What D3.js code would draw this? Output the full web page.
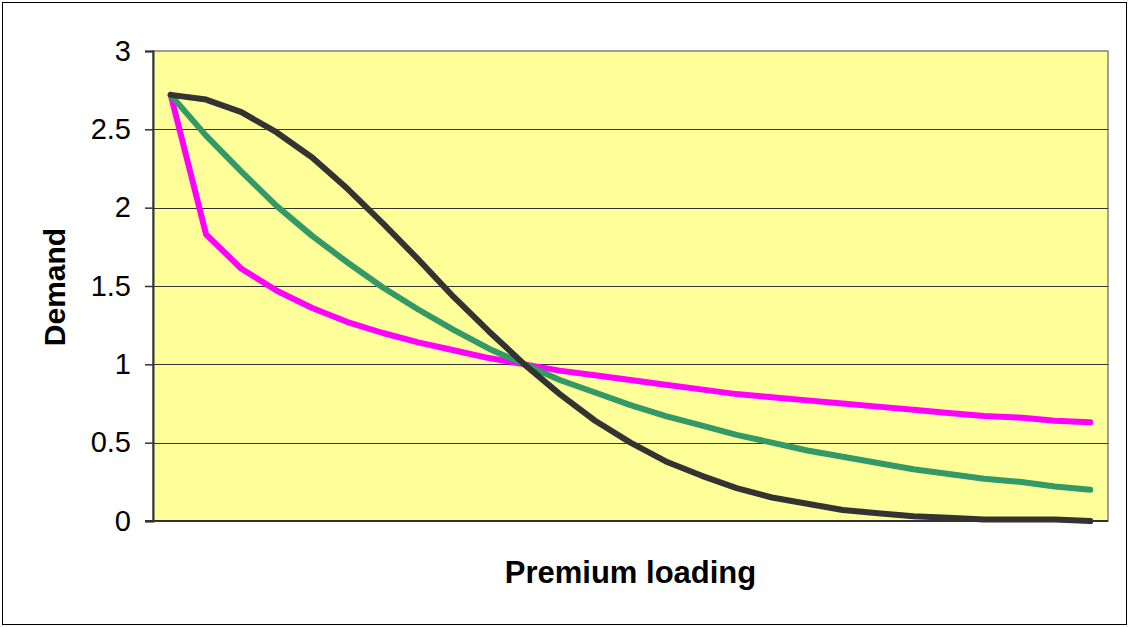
<!DOCTYPE html>
<html>
<head>
<meta charset="utf-8">
<script src="https://cdn.jsdelivr.net/npm/d3@7"></script>
<style>
  html, body { margin: 0; padding: 0; background: #fff; }
  svg { display: block; font-family: "Liberation Sans", Arial, sans-serif; }
</style>
</head>
<body>
<svg id="chart" width="1129" height="627"></svg>
<script>
// Premium loading categories (27 points, no labels shown on axis)
const categories = d3.range(27).map(i => (i / 10).toFixed(1));

const seriesMagenta = [2.72, 1.83, 1.61, 1.47, 1.36, 1.27, 1.20, 1.14, 1.09, 1.04, 1.00,
  0.96, 0.93, 0.90, 0.87, 0.84, 0.81, 0.79, 0.77, 0.75, 0.73, 0.71, 0.69, 0.67, 0.66, 0.64, 0.63];
const seriesGreen = [2.72, 2.46, 2.23, 2.01, 1.82, 1.65, 1.49, 1.35, 1.22, 1.10, 1.00,
  0.90, 0.82, 0.74, 0.67, 0.61, 0.55, 0.50, 0.45, 0.41, 0.37, 0.33, 0.30, 0.27, 0.25, 0.22, 0.20];
const seriesBlack = [2.72, 2.69, 2.61, 2.48, 2.32, 2.12, 1.90, 1.67, 1.43, 1.21, 1.00,
  0.81, 0.64, 0.50, 0.38, 0.29, 0.21, 0.15, 0.11, 0.07, 0.05, 0.03, 0.02, 0.01, 0.01, 0.01, 0.00];

const yTicks = [0, 0.5, 1, 1.5, 2, 2.5, 3];
const yTickLabels = ["0", "0.5", "1", "1.5", "2", "2.5", "3"];

const series = [
  { name: "a", values: seriesMagenta, color: "#FF00FF" },
  { name: "b", values: seriesGreen, color: "#339966" },
  { name: "c", values: seriesBlack, color: "#333333" }
];

const svg = d3.select("#chart");
const W = 1129, H = 627;
const m = { left: 153, top: 51, right: 1108, bottom: 521 };

// outer border
svg.append("rect").attr("x", 2.5).attr("y", 2.5).attr("width", W - 5).attr("height", H - 5)
  .attr("fill", "#fff").attr("stroke", "#000").attr("stroke-width", 1);

const x = d3.scaleBand().domain(categories).range([m.left, m.right]).paddingInner(0).paddingOuter(0);
const y = d3.scaleLinear().domain([0, 3]).range([m.bottom, m.top]);

// plot area
svg.append("rect").attr("x", m.left).attr("y", m.top)
  .attr("width", m.right - m.left).attr("height", m.bottom - m.top)
  .attr("fill", "#FFFF99").attr("stroke", "#808080").attr("stroke-width", 1.5);

// gridlines
svg.append("g").selectAll("line").data(yTicks.filter(t => t > 0 && t < 3)).join("line")
  .attr("x1", m.left).attr("x2", m.right)
  .attr("y1", d => Math.round(y(d)) + 0.5).attr("y2", d => Math.round(y(d)) + 0.5)
  .attr("stroke", "#333").attr("stroke-width", 1.2);

// y axis
const yAxis = d3.axisLeft(y).tickValues(yTicks)
  .tickFormat((d, i) => yTickLabels[i]).tickSize(8).tickPadding(14);
const gy = svg.append("g").attr("transform", `translate(${m.left},0)`).call(yAxis);
gy.select(".domain").attr("stroke", "#333").attr("stroke-width", 2);
gy.selectAll(".tick line").attr("stroke", "#333").attr("stroke-width", 1.5);
gy.selectAll(".tick text").attr("font-size", 29).attr("fill", "#000")
  .attr("font-family", "'Liberation Sans', Arial, sans-serif");

// x axis (baseline only, no ticks)
svg.append("line").attr("x1", m.left - 8).attr("x2", m.right)
  .attr("y1", m.bottom).attr("y2", m.bottom)
  .attr("stroke", "#333").attr("stroke-width", 2);

// lines
const line = d3.line()
  .x((d, i) => x(categories[i]) + x.bandwidth() / 2)
  .y(d => y(d));

svg.append("g").selectAll("path").data(series).join("path")
  .attr("d", d => line(d.values))
  .attr("fill", "none")
  .attr("stroke", d => d.color)
  .attr("stroke-width", 6)
  .attr("stroke-linejoin", "round")
  .attr("stroke-linecap", "round");

// axis titles
svg.append("text")
  .attr("x", (m.left + m.right) / 2).attr("y", 583)
  .attr("text-anchor", "middle").attr("font-size", 31).attr("font-weight", "bold")
  .attr("fill", "#000").text("Premium loading");

svg.append("text")
  .attr("transform", `translate(65,${(m.top + m.bottom) / 2 + 1}) rotate(-90)`)
  .attr("text-anchor", "middle").attr("font-size", 30).attr("font-weight", "bold")
  .attr("fill", "#000").text("Demand");
</script>
</body>
</html>
